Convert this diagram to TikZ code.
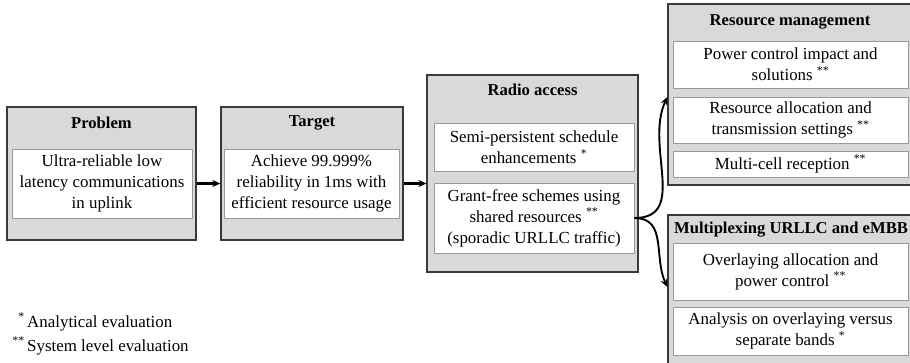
\documentclass[tikz,border=0pt]{standalone}
\usepackage{fontspec}
\setmainfont{Liberation Serif}
\usetikzlibrary{arrows.meta}
\definecolor{panelfill}{HTML}{D9D9D9}
\definecolor{panelline}{HTML}{3A3A3A}
\definecolor{itemline}{HTML}{9A9A9A}
\begin{document}
\begin{tikzpicture}[x=1pt,y=-1pt,
  every node/.style={font=\fontsize{16.9}{21}\selectfont},
  panel/.style={draw=panelline,fill=panelfill,line width=1.3pt,inner sep=0pt},
  panelhead/.style={font=\fontsize{16.6}{21}\selectfont\bfseries,inner sep=0pt},
  item/.style={draw=itemline,fill=white,line width=1pt,align=center,inner sep=0pt},
  flow/.style={line width=2.3pt,-{Stealth[length=8pt,width=7pt]}},
  branch/.style={line width=1.9pt,-{Stealth[length=8pt,width=7pt]}}]
\useasboundingbox (0,0) rectangle (910,362);
\clip (0,0) rectangle (910,362);

% Problem
\node[panel,minimum width=189,minimum height=133] (prob) at (101.5,173.5) {};
\node[panelhead] (probh) at (101.5,123) {Problem};
\node[item,minimum width=180,minimum height=69] (probi) at (102,183.5)
  {Ultra-reliable low\\latency communications\\in uplink};

% Target
\node[panel,minimum width=182,minimum height=133] (targ) at (312,173.5) {};
\node[panelhead] (targh) at (312,123) {Target};
\node[item,minimum width=175,minimum height=69] (targi) at (311.5,183.5)
  {Achieve 99.999\%\\reliability in 1ms with\\efficient resource usage};

% Radio access
\node[panel,minimum width=211,minimum height=197] (radio) at (532.5,173.5) {};
\node[panelhead] (radioh) at (532.5,90) {Radio access};
\node[item,minimum width=200,minimum height=48] (sps) at (534,147)
  {Semi-persistent schedule\\enhancements \textsuperscript{*}};
\node[item,minimum width=200,minimum height=70] (gf) at (534,218)
  {Grant-free schemes using\\shared resources \textsuperscript{**}\\(sporadic URLLC traffic)};

% Resource management
\node[panel,minimum width=244,minimum height=181] (rm) at (790,94.5) {};
\node[panelhead] (rmh) at (790,22) {Resource management};
\node[item,minimum width=235,minimum height=47] (rm1) at (790.5,64.5)
  {Power control impact and\\solutions \textsuperscript{**}};
\node[item,minimum width=235,minimum height=46] (rm2) at (790.5,120)
  {Resource allocation and\\transmission settings \textsuperscript{**}};
\node[item,minimum width=235,minimum height=26] (rm3) at (790.5,164)
  {Multi-cell reception \textsuperscript{**}};

% Multiplexing URLLC and eMBB
\node[panel,minimum width=244,minimum height=155] (mx) at (790,292.5) {};
\node[panelhead] (mxh) at (791,230) {Multiplexing URLLC and eMBB};
\node[item,minimum width=235,minimum height=57] (mx1) at (790.5,271.5)
  {Overlaying allocation and\\power control \textsuperscript{**}};
\node[item,minimum width=235,minimum height=48] (mx2) at (790.5,331)
  {Analysis on overlaying versus\\separate bands \textsuperscript{*}};

% Connectors
\draw[flow] (prob.east |- probi.east) -- (targ.west |- probi.east);
\draw[flow] (targ.east |- targi.east) -- (radio.west |- targi.east);
\draw[branch] (gf.east) to[out=0,in=245,looseness=1.1] ([yshift=-2.5pt]rm.west);
\draw[branch] (gf.east) to[out=0,in=115,looseness=1.1] ([yshift=5.5pt]mx.west);

% Legend
\node[anchor=base east,inner sep=0pt] (k1) at (25,327) {\textsuperscript{*}};
\node[anchor=base west,inner sep=0pt] (l1) at (27,327) {Analytical evaluation};
\node[anchor=base east,inner sep=0pt] (k2) at (25,351) {\textsuperscript{**}};
\node[anchor=base west,inner sep=0pt] (l2) at (27,351) {System level evaluation};
\end{tikzpicture}
\end{document}
